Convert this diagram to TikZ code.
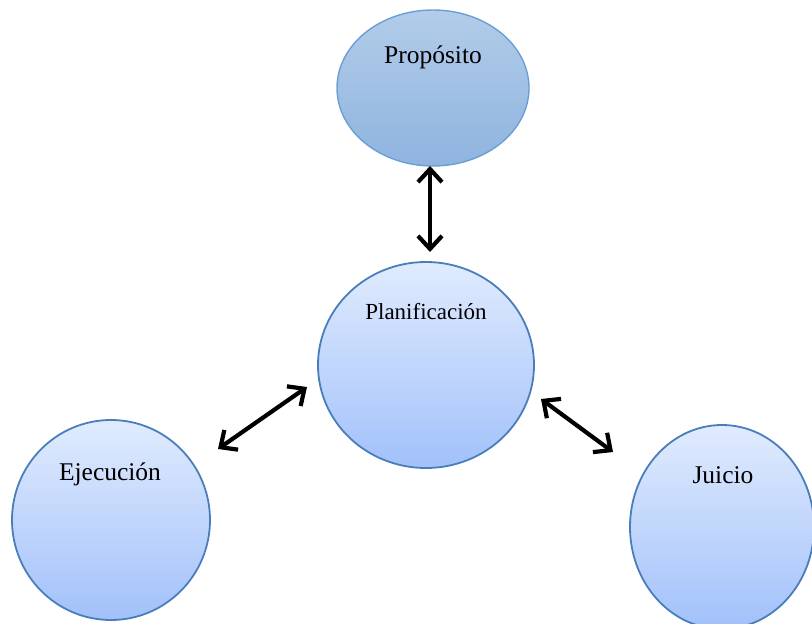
\documentclass[tikz,border=0pt]{standalone}
\usepackage{fontspec}
\setmainfont{Liberation Serif}
\usetikzlibrary{shapes.geometric,arrows.meta}
\definecolor{propTop}{HTML}{B2CCE9}
\definecolor{propBot}{HTML}{8FB4DF}
\definecolor{propLine}{HTML}{6A9FD6}
\definecolor{cTop}{HTML}{E0EBFE}
\definecolor{cBot}{HTML}{A2C1FA}
\definecolor{cLine}{HTML}{4A7EBB}
\tikzset{
  ovalbox/.style={ellipse, draw=cLine, line width=1.8pt, top color=cTop, bottom color=cBot, inner sep=0pt},
  propbox/.style={ellipse, draw=propLine, line width=1.4pt, top color=propTop, bottom color=propBot, inner sep=0pt},
  lbl/.style={anchor=base, inner sep=0pt, font=\fontsize{25.5}{28}\selectfont},
  lblsmall/.style={anchor=base, inner sep=0pt, font=\fontsize{23}{26}\selectfont},
  arr/.style={line width=4.2pt, {Straight Barb[length=13pt,width=24pt]}-{Straight Barb[length=13pt,width=24pt]}}
}
\begin{document}
\begin{tikzpicture}[x=1pt,y=-1pt]
\useasboundingbox (0,0) rectangle (812,624);
\clip (0,0) rectangle (812,624);
\node[propbox, minimum width=192pt, minimum height=156pt] (prop) at (433,88) {};
\node[ovalbox, minimum width=216pt, minimum height=206pt] (plan) at (426,365) {};
\node[ovalbox, minimum width=198pt, minimum height=200pt] (ejec) at (111,520) {};
\node[ovalbox, minimum width=184pt, minimum height=204pt] (juic) at (722,527) {};
\node[lbl] (tprop) at (433,63) {Propósito};
\node[lblsmall] (tplan) at (426,319) {Planificación};
\node[lbl] (tejec) at (110,480) {Ejecución};
\node[lbl] (tjuic) at (723,483) {Juicio};
\coordinate (a1s) at (430,166);
\coordinate (a1e) at (430,252);
\coordinate (a2s) at (218,449);
\coordinate (a2e) at (307,387);
\coordinate (a3s) at (541,399);
\coordinate (a3e) at (613,452);
\draw[arr] (a1s) -- (a1e);
\draw[arr] (a2s) -- (a2e);
\draw[arr] (a3s) -- (a3e);
\end{tikzpicture}
\end{document}
